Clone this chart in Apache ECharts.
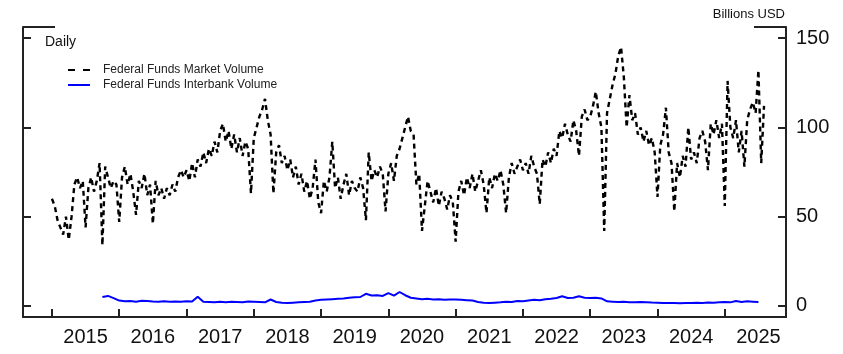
<!DOCTYPE html>
<html>
<head>
<meta charset="utf-8">
<script src="https://cdn.jsdelivr.net/npm/echarts@6/dist/echarts.min.js"></script>
<style>
  html, body { margin: 0; padding: 0; background: #fff; }
  #chart { width: 843px; height: 354px; }
</style>
</head>
<body>
<div id="chart"></div>
<script>
// Federal Funds Market Volume, read twice a month (1st, 16th), billions USD
const mkt2015 = [60, 56, 48, 44, 40, 50, 37, 50, 68, 72, 66, 70, 44, 66, 72, 64, 70, 80, 34, 78, 72, 66, 70, 68]
const mkt2016 = [47, 72, 78, 68, 74, 64, 51, 70, 66, 74, 62, 68, 46, 70, 62, 66, 60, 66, 62, 68, 64, 72, 76, 72]
const mkt2017 = [76, 70, 80, 72, 82, 78, 86, 80, 88, 84, 92, 86, 98, 102, 92, 98, 88, 96, 86, 94, 84, 92, 88, 63]
const mkt2018 = [94, 100, 106, 110, 116, 104, 96, 63, 86, 90, 80, 84, 76, 82, 72, 78, 68, 74, 64, 70, 60, 66, 82, 58]
const mkt2019 = [52, 70, 64, 72, 92, 66, 72, 60, 68, 74, 62, 70, 66, 64, 72, 66, 48, 86, 70, 76, 72, 78, 74, 53]
const mkt2020 = [74, 80, 70, 84, 88, 94, 100, 106, 98, 96, 68, 74, 42, 56, 70, 64, 58, 66, 56, 64, 60, 54, 62, 58]
const mkt2021 = [36, 64, 70, 62, 72, 66, 74, 64, 70, 76, 68, 52, 72, 66, 74, 70, 76, 68, 52, 72, 80, 74, 78, 82]
const mkt2022 = [76, 80, 74, 84, 78, 74, 57, 82, 78, 86, 80, 88, 84, 98, 94, 102, 96, 92, 104, 98, 84, 106, 110, 104]
const mkt2023 = [106, 112, 120, 108, 100, 42, 108, 116, 124, 130, 140, 145, 128, 100, 118, 104, 108, 96, 100, 92, 98, 90, 94, 86]
const mkt2024 = [61, 90, 96, 111, 86, 80, 53, 80, 72, 84, 78, 100, 82, 86, 80, 94, 98, 92, 76, 102, 96, 104, 94, 102]
const mkt2025 = [56, 126, 100, 94, 104, 86, 98, 78, 104, 110, 114, 108, 132, 80, 112]

// Federal Funds Interbank Volume, monthly, from Oct 2015
const ib2015 = [5.0, 5.6, 4.4]
const ib2016 = [3.0, 2.6, 2.8, 2.4, 2.9, 2.7, 2.5, 2.4, 2.6, 2.3, 2.5, 2.4]
const ib2017 = [2.6, 2.5, 5.2, 2.4, 2.2, 2.0, 2.3, 2.1, 2.4, 2.2, 2.0, 2.5]
const ib2018 = [2.4, 2.2, 2.0, 3.6, 2.2, 1.8, 1.6, 1.8, 2.0, 2.2, 2.4, 3.0]
const ib2019 = [3.4, 3.6, 3.8, 4.0, 4.2, 4.6, 4.8, 5.0, 6.8, 5.8, 6.0, 5.6]
const ib2020 = [7.2, 5.8, 7.8, 6.0, 4.6, 4.2, 3.8, 4.0, 3.6, 3.8, 3.4, 3.6]
const ib2021 = [3.6, 3.4, 3.2, 3.0, 2.2, 1.8, 1.6, 1.8, 2.0, 2.4, 2.2, 2.8]
const ib2022 = [2.6, 3.0, 3.4, 3.2, 3.8, 4.0, 4.4, 5.4, 4.4, 4.6, 5.4, 4.6]
const ib2023 = [4.4, 4.6, 4.2, 2.6, 2.4, 2.2, 2.3, 2.1, 2.0, 2.2, 2.1, 1.9]
const ib2024 = [1.8, 1.6, 1.7, 1.6, 1.5, 1.7, 1.6, 1.8, 1.7, 1.9, 1.8, 2.0]
const ib2025 = [2.2, 2.0, 2.8, 2.2, 2.6, 2.4, 2.2]

const years = [2015, 2016, 2017, 2018, 2019, 2020, 2021, 2022, 2023, 2024, 2025]
const yTicks = [0, 50, 100, 150]

const mktByYear = [mkt2015, mkt2016, mkt2017, mkt2018, mkt2019, mkt2020, mkt2021, mkt2022, mkt2023, mkt2024, mkt2025]
const ibByYear = [ib2015, ib2016, ib2017, ib2018, ib2019, ib2020, ib2021, ib2022, ib2023, ib2024, ib2025]

// x as decimal year
const mktPoints = []
mktByYear.forEach((arr, i) => {
  arr.forEach((v, k) => mktPoints.push([years[i] + k / 24, v]))
})
const ibPoints = []
ibByYear.forEach((arr, i) => {
  const first = i === 0 ? 9 : 0 // starts in October 2015
  arr.forEach((v, m) => ibPoints.push([years[i] + (first + m) / 12, v]))
})

const FONT = "'Liberation Sans', Arial, sans-serif"
const AXIS_COLOR = "#222"

const chart = echarts.init(document.getElementById("chart"))

const yBase = {
  type: "value",
  min: -6.2,
  max: 156.2,
  splitLine: { show: false },
  axisLine: { show: true, onZero: false, lineStyle: { color: AXIS_COLOR, width: 2 } },
  axisTick: { show: true, inside: true, length: 8, customValues: yTicks, lineStyle: { color: AXIS_COLOR, width: 2 } },
}

const option = {
  animation: false,
  grid: { left: 23, right: 57, top: 27, bottom: 37 },
  legend: {
    orient: "vertical",
    left: 67,
    top: 64,
    padding: 0,
    itemWidth: 22,
    itemHeight: 12,
    itemGap: 3,
    itemStyle: { opacity: 0 },
    textStyle: { fontFamily: FONT, fontSize: 12, color: "#222", padding: [0, 0, 0, 8] },
    data: [
      { name: "Federal Funds Market Volume", lineStyle: { type: [7, 8] } },
      { name: "Federal Funds Interbank Volume" },
    ],
  },
  graphic: [
    // partial top frame
    { type: "line", shape: { x1: 23, y1: 27, x2: 55, y2: 27 }, style: { stroke: AXIS_COLOR, lineWidth: 2 } },
    { type: "line", shape: { x1: 754, y1: 27, x2: 786, y2: 27 }, style: { stroke: AXIS_COLOR, lineWidth: 2 } },
    { type: "text", left: 45, top: 35, style: { text: "Daily", fontFamily: FONT, fontSize: 14, fill: "#111" } },
    { type: "text", right: 58, top: 8, style: { text: "Billions USD", fontFamily: FONT, fontSize: 13, fill: "#111" } },
  ],
  xAxis: {
    type: "value",
    min: 2014.57,
    max: 2025.91,
    splitLine: { show: false },
    axisLine: { show: true, onZero: false, lineStyle: { color: AXIS_COLOR, width: 2 } },
    axisTick: { show: true, inside: true, length: 8, customValues: years, lineStyle: { color: AXIS_COLOR, width: 2 } },
    axisLabel: {
      customValues: years.map((y) => y + 0.5),
      formatter: (v) => String(Math.floor(v)),
      fontFamily: FONT,
      fontSize: 20,
      color: "#111",
      margin: 10,
    },
  },
  yAxis: [
    Object.assign({}, yBase, { position: "left", axisLabel: { show: false } }),
    Object.assign({}, yBase, {
      position: "right",
      axisLabel: { customValues: yTicks, fontFamily: FONT, fontSize: 20, color: "#111", margin: 10 },
    }),
  ],
  series: [
    {
      name: "Federal Funds Market Volume",
      type: "line",
      yAxisIndex: 0,
      symbol: "none",
      lineStyle: { color: "#000", width: 2.4, type: [5, 4] },
      itemStyle: { color: "#000" },
      emphasis: { disabled: true },
      data: mktPoints,
      z: 3,
    },
    {
      name: "Federal Funds Interbank Volume",
      type: "line",
      yAxisIndex: 0,
      symbol: "none",
      lineStyle: { color: "#0000ff", width: 2 },
      itemStyle: { color: "#0000ff" },
      emphasis: { disabled: true },
      data: ibPoints,
      z: 2,
    },
  ],
}

chart.setOption(option)
</script>
</body>
</html>
